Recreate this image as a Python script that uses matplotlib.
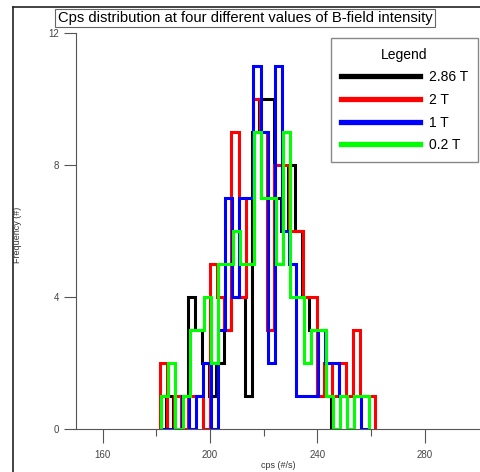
import matplotlib
matplotlib.use("Agg")
import matplotlib.pyplot as plt
import numpy as np
from matplotlib.lines import Line2D

plt.rcParams['font.family'] = ['Liberation Sans', 'DejaVu Sans']

# histogram data (counts per bin, bins of ~2.67 cps from 181)
bin_start = 181.0
bin_width = 2.67
labels = ["2.86 T", "2 T", "1 T", "0.2 T"]
colors = ["#000000", "#ff0000", "#0000ff", "#00ff00"]
offsets = [0.0, 0.25, 0.5, 0.75]
black = [0, 1, 0, 1, 4, 3, 2, 1, 2, 3, 4, 4, 1, 9, 10, 10, 7, 6, 8, 6, 4, 3, 1, 1]
red = [2, 0, 1, 0, 1, 1, 0, 5, 4, 3, 9, 4, 7, 10, 9, 3, 8, 8, 6, 6, 4, 4, 1, 2, 1, 2, 1, 3, 1, 1]
blue = [0, 0, 0, 1, 0, 1, 2, 0, 3, 7, 4, 7, 7, 11, 9, 2, 11, 6, 5, 1, 1, 1, 3, 2, 2, 1, 0, 1, 0]
green = [1, 2, 0, 1, 3, 3, 4, 2, 5, 5, 6, 5, 5, 9, 7, 7, 5, 9, 4, 4, 2, 3, 3, 1, 0, 1, 0, 1, 1]
series = [black, red, blue, green]
x_ticks = [160, 200, 240, 280]
y_ticks = [0, 4, 8, 12]

fig = plt.figure(figsize=(4.8, 4.72), dpi=100)
ax = fig.add_axes([76/480, 43/472, 1 - 76/480, 396/472])

for counts, col, lab, off in zip(series, colors, labels, offsets):
    edges = bin_start + off + bin_width*np.arange(len(counts) + 1)
    ax.stairs(counts, edges, baseline=0, color=col, lw=2.2, label=lab)

ax.set_xlim(150, 300.7)
ax.set_ylim(0, 12)
ax.set_xticks(x_ticks)
ax.set_xticks([180, 220, 260], minor=True)
ax.set_yticks(y_ticks)
for s in ["top", "right"]:
    ax.spines[s].set_visible(False)
for s in ["left", "bottom"]:
    ax.spines[s].set_color("#555555")
    ax.spines[s].set_linewidth(0.8)
ax.tick_params(axis="x", which="major", length=10, width=0.8, color="#555555",
               labelsize=7, labelcolor="#444444", pad=5)
ax.tick_params(axis="x", which="minor", length=5, width=0.8, color="#555555")
ax.tick_params(axis="y", length=9, width=0.8, color="#555555",
               labelsize=7, labelcolor="#444444", pad=3)
ax.set_xlabel("cps (#/s)", fontsize=6.5, color="#333333", labelpad=1)
fig.text(17/480, 1 - 235/472, "Frequency (#)", rotation=90, fontsize=6.5,
         color="#333333", ha="center", va="center")

leg = ax.legend(loc="upper right", bbox_to_anchor=(478/480, 1 - 38/472),
                bbox_transform=fig.transFigure, title="Legend", fontsize=10,
                title_fontsize=10, handlelength=5.7, handletextpad=0.65,
                labelspacing=0.62, borderpad=0.7, fancybox=False,
                edgecolor="#888888", framealpha=1, borderaxespad=0)
for h in leg.get_lines():
    h.set_linewidth(3.8)

# title in a box and outer frame
fig.text(245/480, 1 - 18/472,
         "Cps distribution at four different values of B-field intensity",
         fontsize=10.6, ha="center", va="center",
         bbox=dict(boxstyle="square,pad=0.15", fc="white", ec="#666666", lw=0.8))
fig.add_artist(Line2D([13/480, 13/480], [0, 1 - 7/472], color="#222222",
                      lw=1.2, transform=fig.transFigure))
fig.add_artist(Line2D([13/480, 1], [1 - 7/472, 1 - 7/472], color="#222222",
                      lw=1.2, transform=fig.transFigure))

fig.savefig("out.png", dpi=100)
